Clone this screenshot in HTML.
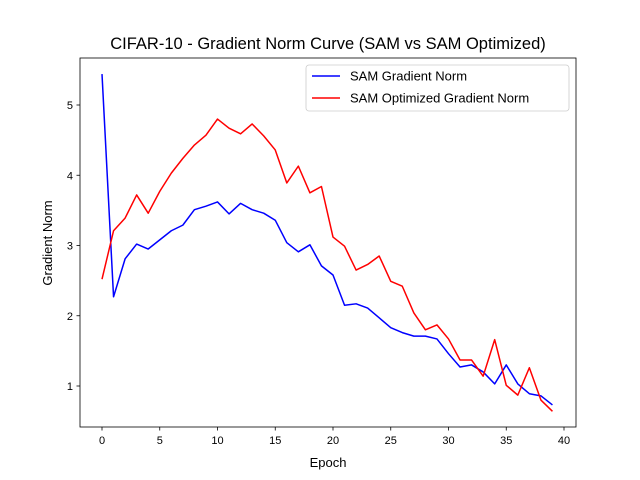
<!DOCTYPE html>
<html><head><meta charset="utf-8"><style>
body{margin:0;background:#fff;}
svg{display:block;font-family:"Liberation Sans","DejaVu Sans",sans-serif;}
</style></head><body>
<svg id="chart" width="640" height="480" viewBox="0 0 640 480" xmlns="http://www.w3.org/2000/svg">
<rect width="640" height="480" fill="#fff"/>
<text x="328" y="49" font-size="16.5" text-anchor="middle">CIFAR-10 - Gradient Norm Curve (SAM vs SAM Optimized)</text>
<g id="plot"></g>
<text x="328" y="467" font-size="13" text-anchor="middle">Epoch</text>
<text x="0" y="0" font-size="13" text-anchor="middle" transform="translate(52,243) rotate(-90)">Gradient Norm</text>
</svg>
<script>
const xTicks=[0,5,10,15,20,25,30,35,40];
const yTicks=[1,2,3,4,5];
const samGrad=[5.44,2.27,2.81,3.02,2.95,3.08,3.21,3.29,3.51,3.56,3.62,3.45,3.60,3.51,3.46,3.36,3.04,2.91,3.01,2.71,2.58,2.15,2.17,2.11,1.97,1.83,1.76,1.71,1.71,1.67,1.46,1.27,1.30,1.20,1.03,1.30,1.03,0.89,0.86,0.73];
const samOptGrad=[2.52,3.21,3.39,3.72,3.46,3.77,4.03,4.24,4.43,4.57,4.80,4.67,4.59,4.73,4.56,4.36,3.89,4.13,3.75,3.84,3.12,2.99,2.65,2.73,2.85,2.49,2.42,2.04,1.80,1.87,1.67,1.37,1.37,1.14,1.66,1.01,0.87,1.26,0.80,0.64];
const seriesNames=["SAM Gradient Norm","SAM Optimized Gradient Norm"];
const NS="http://www.w3.org/2000/svg";
const L=80,R=576,T=58,B=427;
const xs=v=>102+v*(564-102)/40;
const ys=v=>456.25-v*70.25;
const g=document.getElementById('plot');
function mk(tag,attrs){const e=document.createElementNS(NS,tag);for(const k in attrs)e.setAttribute(k,attrs[k]);g.appendChild(e);return e;}
function line(data,color,name){
  const p=mk('polyline',{points:data.map((v,i)=>xs(i)+','+ys(v)).join(' '),fill:'none',stroke:color,'stroke-width':1.5,'stroke-linejoin':'round'});
  
  
}
line(samGrad,'#0000ff','sam-gradient-norm-line');
line(samOptGrad,'#ff0000','sam-optimized-gradient-norm-line');
const fr=mk('rect',{x:L,y:T,width:R-L,height:B-T,fill:'none',stroke:'#000','stroke-width':0.8});


xTicks.forEach(t=>{
  const x=xs(t);
  const tk=mk('line',{x1:x,x2:x,y1:B,y2:B+3.5,stroke:'#000','stroke-width':0.8});
  
  
  const lb=mk('text',{x:x,y:B+17,'font-size':11,'text-anchor':'middle'});
  lb.textContent=t;
  
  
});
yTicks.forEach(t=>{
  const y=ys(t);
  const tk=mk('line',{x1:L-3.5,x2:L,y1:y,y2:y,stroke:'#000','stroke-width':0.8});
  
  
  const lb=mk('text',{x:L-7,y:y+4,'font-size':11,'text-anchor':'end'});
  lb.textContent=t;
  
  
});
const lg=mk('rect',{x:306,y:65,width:263,height:46,rx:3,fill:'#fff','fill-opacity':0.8,stroke:'#ccc','stroke-width':0.8});


const colors=['#0000ff','#ff0000'];
seriesNames.forEach((n,i)=>{
  const y=76+i*22;
  const ln=mk('line',{x1:312,x2:340,y1:y,y2:y,stroke:colors[i],'stroke-width':1.5});
  
  
  const tx=mk('text',{x:350,y:y+4.5,'font-size':13});
  tx.textContent=n;
  
  
});
</script>
</body></html>
